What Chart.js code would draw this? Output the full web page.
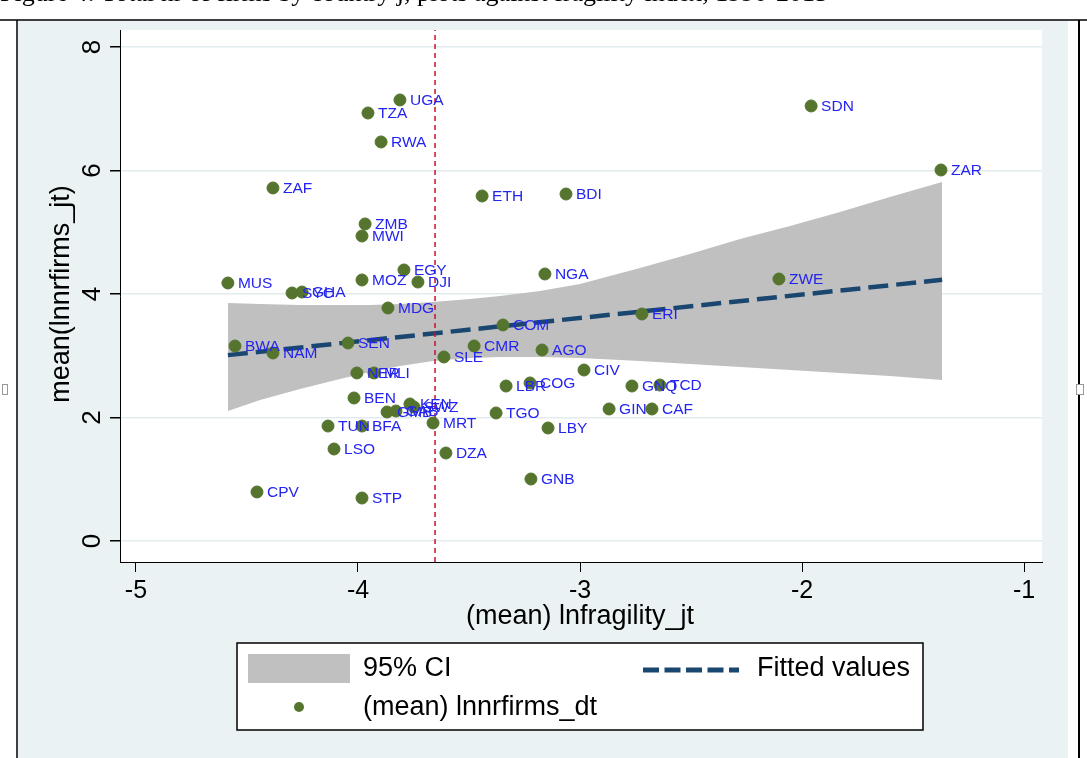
<!DOCTYPE html>
<html lang="en">
<head>
<meta charset="UTF-8">
<title>Firms vs fragility</title>
<script src="https://cdn.jsdelivr.net/npm/chart.js"></script>
<style>
  html, body { margin: 0; padding: 0; background: #fff; }
  #wrap { position: relative; width: 1087px; height: 758px; }
</style>
</head>
<body>
<div id="wrap"><canvas id="myChart" width="1087" height="758"></canvas></div>
<script>
// country codes + means
const countries = ['SDN','ZAR','UGA','TZA','RWA','ZAF','ETH','BDI','ZMB','MWI',
  'EGY','MUS','MOZ','DJI','NGA','ZWE','SYC','GHA','MDG','BWA',
  'NAM','SEN','COM','CMR','AGO','SLE','ERI','CIV','GNQ','TCD',
  'LBR','COG','NER','MLI','BEN','GMB','GAB','KEN','SWZ','TGO',
  'GIN','CAF','LBY','MRT','TUN','BFA','LSO','DZA','GNB','CPV','STP'];
const fragility = [-1.959,-1.374,-3.811,-3.955,-3.896,-4.383,-3.441,-3.063,-3.968,-3.982,
  -3.793,-4.586,-3.982,-3.730,-3.158,-2.104,-4.297,-4.252,-3.865,-4.554,
  -4.383,-4.045,-3.347,-3.477,-3.171,-3.613,-2.721,-2.982,-2.766,-2.640,
  -3.333,-3.225,-4.005,-3.928,-4.018,-3.869,-3.829,-3.766,-3.748,-3.378,
  -2.869,-2.676,-3.144,-3.662,-4.135,-3.982,-4.108,-3.604,-3.221,-4.455,-3.982];
const lnFirms = [7.045,6.008,7.142,6.931,6.462,5.717,5.587,5.619,5.134,4.939,
  4.389,4.178,4.227,4.194,4.324,4.243,4.016,4.032,3.773,3.158,
  3.045,3.206,3.498,3.158,3.093,2.980,3.676,2.769,2.510,2.526,
  2.510,2.559,2.721,2.721,2.316,2.089,2.105,2.219,2.170,2.073,
  2.138,2.138,1.830,1.911,1.862,1.862,1.490,1.425,1.004,0.794,0.696];

// 95% CI band edges
const bandX = [-4.586,-4.441,-4.261,-4.081,-3.946,-3.811,-3.662,-3.495,-3.360,-3.180,
  -3.000,-2.730,-2.505,-2.279,-2.054,-1.829,-1.604,-1.369];
const bandUpper = [3.854,3.838,3.822,3.822,3.822,3.838,3.870,3.919,3.968,4.049,
  4.162,4.421,4.648,4.891,5.101,5.328,5.571,5.814];
const bandLower = [2.105,2.283,2.462,2.623,2.737,2.834,2.915,2.964,2.980,2.980,
  2.964,2.915,2.866,2.818,2.769,2.721,2.672,2.607];

// fitted values (end points)
const fitX = [-4.586, -1.369];
const fitY = [3.01, 4.23];

// vertical reference line
const refX = -3.653;

const xTicks = [-5, -4, -3, -2, -1];
const yTicks = [0, 2, 4, 6, 8];
const xRange = [-5.072, -0.919];
const yRange = [-0.34, 8.275];

const SANS = '"Liberation Sans", Arial, sans-serif';
const GREEN = '#55752f';
const NAVY = '#1a476f';

const pagePlugin = {
  id: 'page',
  beforeDraw(chart) {
    const ctx = chart.ctx, a = chart.chartArea;
    ctx.save();
    ctx.fillStyle = '#fff';
    ctx.fillRect(0, 0, chart.width, chart.height);
    ctx.fillStyle = '#eaf2f3';
    ctx.fillRect(18, 21, 1050, 737);
    ctx.fillStyle = '#fff';
    ctx.fillRect(a.left, a.top, a.right - a.left, a.bottom - a.top);
    // document frame
    ctx.strokeStyle = '#000';
    ctx.lineWidth = 1.5;
    ctx.beginPath();
    ctx.moveTo(0, 20); ctx.lineTo(1087, 20);
    ctx.moveTo(17, 20); ctx.lineTo(17, 758);
    ctx.stroke();
    ctx.lineWidth = 2;
    ctx.beginPath();
    ctx.moveTo(1079, 20); ctx.lineTo(1079, 758);
    ctx.stroke();
    ctx.fillStyle = '#fff';
    ctx.strokeStyle = '#999';
    ctx.lineWidth = 1;
    ctx.fillRect(1076, 384, 7, 10);
    ctx.strokeRect(1076.5, 384.5, 7, 10);
    ctx.strokeRect(2.5, 384.5, 5, 10);
    // caption, cut off at top
    ctx.fillStyle = '#000';
    ctx.font = '26px "Liberation Serif", "Times New Roman", serif';
    ctx.textBaseline = 'alphabetic';
    ctx.textAlign = 'left';
    ctx.fillText('Figure 4: Total nr of firms by country j, plots against fragility index, 1990-2015', 0, 0.5);
    ctx.restore();
  },
  afterDraw(chart) {
    const ctx = chart.ctx, a = chart.chartArea, y = chart.scales.y;
    ctx.save();
    ctx.fillStyle = '#000';
    ctx.font = '26px ' + SANS;
    ctx.textAlign = 'center';
    ctx.textBaseline = 'middle';
    yTicks.forEach(v => {
      ctx.save();
      ctx.translate(93, y.getPixelForValue(v));
      ctx.rotate(-Math.PI / 2);
      ctx.fillText(String(v), 0, 0);
      ctx.restore();
    });
    // axis titles
    ctx.font = '27px ' + SANS;
    ctx.fillText('(mean) lnfragility_jt', 580, 617);
    ctx.save();
    ctx.translate(62, 294);
    ctx.rotate(-Math.PI / 2);
    ctx.fillText('mean(lnnrfirms_jt)', 0, 0);
    ctx.restore();

    // legend
    ctx.fillStyle = '#fff';
    ctx.fillRect(237, 643, 686, 87);
    ctx.strokeStyle = '#000';
    ctx.lineWidth = 1.5;
    ctx.strokeRect(237, 643, 686, 87);
    ctx.fillStyle = '#c0c0c0';
    ctx.fillRect(248, 654, 102, 29);
    ctx.strokeStyle = NAVY;
    ctx.lineWidth = 5;
    ctx.setLineDash([16, 5.5]);
    ctx.beginPath();
    ctx.moveTo(643, 670); ctx.lineTo(739, 670);
    ctx.stroke();
    ctx.setLineDash([]);
    ctx.fillStyle = GREEN;
    ctx.beginPath();
    ctx.arc(299, 707, 5, 0, Math.PI * 2);
    ctx.fill();
    ctx.fillStyle = '#000';
    ctx.font = '27px ' + SANS;
    ctx.textAlign = 'left';
    ctx.fillText('95% CI', 363, 669);
    ctx.fillText('Fitted values', 757, 669);
    ctx.fillText('(mean) lnnrfirms_dt', 363, 708);
    ctx.restore();
  }
};

const labelPlugin = {
  id: 'pointLabels',
  afterDatasetsDraw(chart) {
    const meta = chart.getDatasetMeta(0);
    const ctx = chart.ctx;
    ctx.save();
    ctx.fillStyle = '#2424f0';
    ctx.font = '15.5px ' + SANS;
    ctx.textAlign = 'left';
    ctx.textBaseline = 'middle';
    meta.data.forEach((pt, i) => {
      ctx.fillText(countries[i], pt.x + 10, pt.y + 1);
    });
    ctx.restore();
  }
};

const ctx = document.getElementById('myChart');

new Chart(ctx, {
  type: 'scatter',
  data: {
    datasets: [
      {
        label: '(mean) lnnrfirms_dt',
        data: fragility.map((x, i) => ({ x: x, y: lnFirms[i] })),
        backgroundColor: GREEN,
        borderColor: GREEN,
        pointRadius: 6,
        order: 0
      },
      {
        type: 'line',
        label: 'ref',
        data: [{ x: refX, y: yRange[0] }, { x: refX, y: yRange[1] }],
        borderColor: '#c8102e',
        borderWidth: 1.5,
        borderDash: [5, 4],
        pointRadius: 0,
        fill: false,
        order: 1
      },
      {
        type: 'line',
        label: 'Fitted values',
        data: fitX.map((x, i) => ({ x: x, y: fitY[i] })),
        borderColor: NAVY,
        borderWidth: 4.5,
        borderDash: [20, 8],
        pointRadius: 0,
        fill: false,
        order: 2
      },
      {
        type: 'line',
        label: '95% CI',
        data: bandX.map((x, i) => ({ x: x, y: bandUpper[i] })),
        borderWidth: 0,
        borderColor: 'rgba(0,0,0,0)',
        backgroundColor: '#c0c0c0',
        pointRadius: 0,
        tension: 0,
        fill: '+1',
        order: 3
      },
      {
        type: 'line',
        label: 'lower',
        data: bandX.map((x, i) => ({ x: x, y: bandLower[i] })),
        borderWidth: 0,
        borderColor: 'rgba(0,0,0,0)',
        pointRadius: 0,
        tension: 0,
        fill: false,
        order: 4
      }
    ]
  },
  options: {
    responsive: false,
    animation: false,
    layout: { padding: { left: 0, top: 30, right: 45, bottom: 0 } },
    plugins: {
      legend: { display: false },
      tooltip: { enabled: false }
    },
    scales: {
      x: {
        type: 'linear',
        min: xRange[0],
        max: xRange[1],
        afterBuildTicks: s => { s.ticks = xTicks.map(v => ({ value: v })); },
        afterFit: s => { s.height = 196; },
        ticks: {
          color: '#000',
          padding: 4,
          font: { family: SANS, size: 25 },
          callback: v => String(v)
        },
        grid: { drawOnChartArea: false, drawTicks: true, tickLength: 10, tickColor: '#000' },
        border: { color: '#000', width: 1 }
      },
      y: {
        type: 'linear',
        min: yRange[0],
        max: yRange[1],
        afterBuildTicks: s => { s.ticks = yTicks.map(v => ({ value: v })); },
        afterFit: s => { s.width = 120; },
        ticks: { display: false },
        grid: { color: '#e2ebee', lineWidth: 1.5, drawTicks: true, tickLength: 10, tickColor: '#000' },
        border: { color: '#000', width: 1 }
      }
    }
  },
  plugins: [pagePlugin, labelPlugin]
});
</script>
</body>
</html>
